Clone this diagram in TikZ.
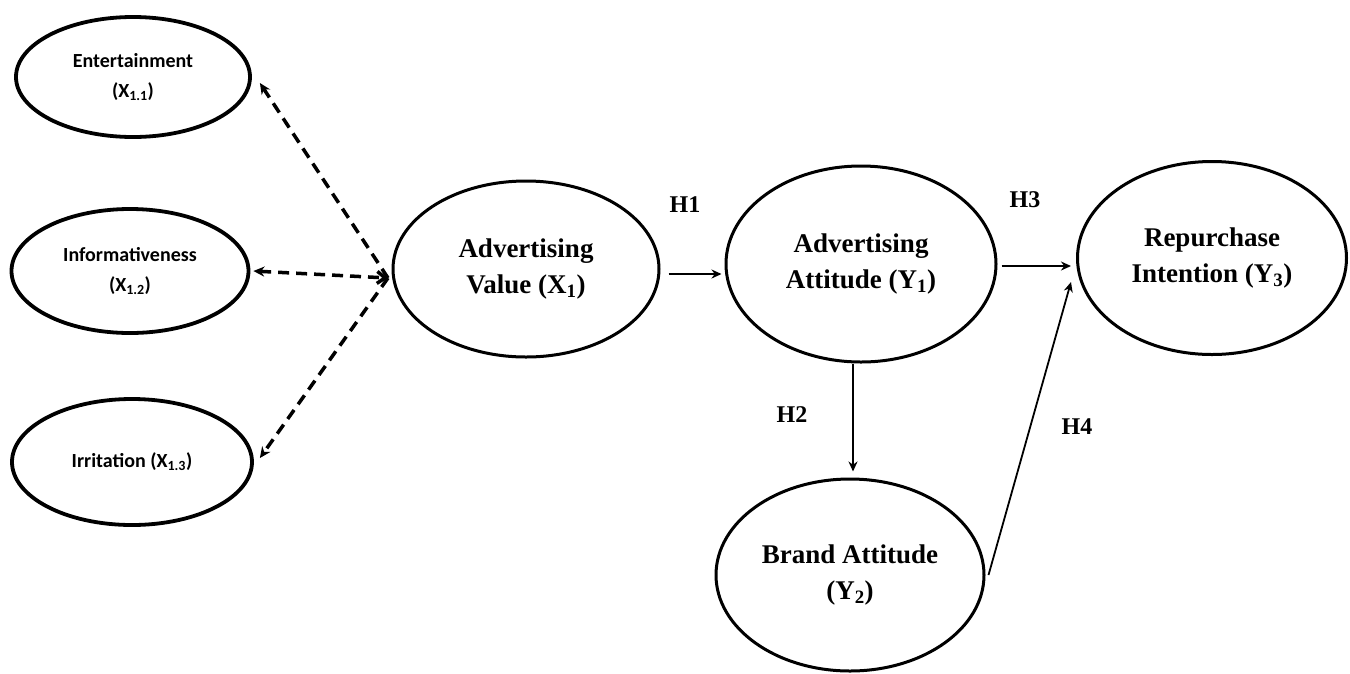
\documentclass[tikz,border=0pt]{standalone}
\usepackage{fontspec}
\setmainfont{Liberation Serif}
\newfontfamily\calib{Carlito}
\usetikzlibrary{shapes.geometric,arrows.meta}
\begin{document}
\begin{tikzpicture}[x=1pt,y=-1pt,
    dim/.style={draw,ellipse,line width=3.8pt,inner sep=0pt,align=center,font=\calib\bfseries\fontsize{20}{30}\selectfont},
    con/.style={draw,ellipse,line width=3pt,inner sep=0pt,align=center,font=\bfseries\fontsize{27}{36}\selectfont},
    hyp/.style={font=\bfseries\fontsize{24}{24}\selectfont},
    arr/.style={line width=2.4pt,-{Stealth[length=10pt,width=9pt]}},
    dasharr/.style={line width=3.5pt,dash pattern=on 11pt off 7pt,-{Stealth[length=11pt,width=10pt]}}]
  \useasboundingbox (0,0) rectangle (1350,673);
  \node[dim,minimum width=234pt,minimum height=120pt] (ent) at (133,77) {Entertainment\\(X\textsubscript{1.1})};
  \node[dim,minimum width=237pt,minimum height=124pt] (inf) at (130,271) {Informativeness\\(X\textsubscript{1.2})};
  \node[dim,minimum width=240pt,minimum height=126pt] (irr) at (132,462) {Irritation (X\textsubscript{1.3})};
  \node[con,minimum width=266pt,minimum height=176pt] (av) at (526,269) {Advertising\\Value (X\textsubscript{1})};
  \node[con,minimum width=270pt,minimum height=196pt] (aa) at (861,264) {Advertising\\Attitude (Y\textsubscript{1})};
  \node[con,minimum width=269pt,minimum height=193pt] (ri) at (1212,258) {Repurchase\\Intention (Y\textsubscript{3})};
  \node[con,minimum width=268pt,minimum height=192pt] (ba) at (850,575) {Brand Attitude\\(Y\textsubscript{2})};
  \coordinate (hub) at (388,278);
  \draw[dasharr] (hub) -- ([shift={(8,6)}]ent.east);
  \draw[dasharr,{Stealth[length=11pt,width=10pt]}-{Straight Barb[length=8pt,width=12pt]}] ([xshift=3pt]inf.east) -- (hub);
  \draw[dasharr] (hub) -- ([shift={(6,-4)}]irr.east);
  \draw[arr] ([shift={(8,5)}]av.east) -- ([shift={(-3,10)}]aa.west);
  \draw[arr] ([xshift=-8pt]aa.south) -- ([shift={(3,-6)}]ba.north);
  \draw[arr] ([shift={(4,2)}]aa.east) -- ([shift={(-5,8)}]ri.west);
  \draw[arr,line width=1.8pt] ([xshift=3pt]ba.east) -- ([shift={(-5,24)}]ri.west);
  \node[hyp] (h1) at (685,205) {H1};
  \node[hyp] (h2) at (792,415) {H2};
  \node[hyp] (h3) at (1025,200) {H3};
  \node[hyp] (h4) at (1077,427) {H4};
\end{tikzpicture}
\end{document}
